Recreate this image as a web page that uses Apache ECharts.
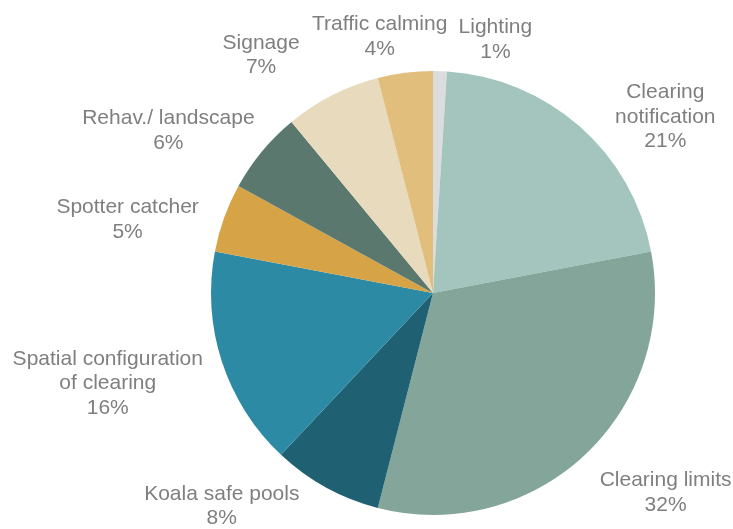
<!DOCTYPE html>
<html>
<head>
<meta charset="utf-8">
<script src="https://cdn.jsdelivr.net/npm/echarts@6/dist/echarts.min.js"></script>
<style>
  html, body { margin: 0; padding: 0; background: #ffffff; }
  #chart { width: 733px; height: 529px; }
</style>
</head>
<body>
<div id="chart"></div>
<script>
// Share of measures, clockwise from 12 o'clock
const categories = [
  'Lighting',
  'Clearing\nnotification',
  'Clearing limits',
  'Koala safe pools',
  'Spatial configuration\nof clearing',
  'Spotter catcher',
  'Rehav./ landscape',
  'Signage',
  'Traffic calming'
];
const shares = [1, 21, 32, 8, 16, 5, 6, 7, 4];

const sliceColors = [
  '#dcdcdc', '#a3c5bd', '#84a59a', '#1f6073', '#2d8aa4',
  '#d6a447', '#5b786f', '#e8dabd', '#e1be7c'
];

// Extra shift applied to each label after placing it just outside its slice
const labelShift = [
  [54, 1], [47, 24], [30, 14], [-63, -10], [-16, 8],
  [-22, 13], [-21, 0], [-50, -11], [-16, -4]
];

const chart = echarts.init(document.getElementById('chart'), null, { renderer: 'canvas' });

const labelGap = 8;

function placeLabel(params) {
  const data = chart.getModel().getSeriesByIndex(0).getData();
  const lay = data.getItemLayout(params.dataIndex);
  const mid = (lay.startAngle + lay.endAngle) / 2;
  const ux = Math.cos(mid);
  const uy = Math.sin(mid);
  const w = params.labelRect.width;
  const h = params.labelRect.height;
  const d = lay.r + labelGap;
  const s = labelShift[params.dataIndex];
  return {
    x: lay.cx + ux * d + ux * w / 2 + s[0],
    y: lay.cy + uy * d + uy * h / 2 + s[1],
    align: 'center',
    verticalAlign: 'middle'
  };
}

chart.setOption({
  animation: false,
  backgroundColor: '#ffffff',
  series: [{
    type: 'pie',
    center: [433, 293],
    radius: 222,
    startAngle: 90,
    clockwise: true,
    avoidLabelOverlap: false,
    silent: true,
    itemStyle: { borderWidth: 0 },
    label: {
      show: true,
      position: 'outside',
      formatter: '{b}\n{d}%',
      color: '#7f7f7f',
      fontFamily: 'Liberation Sans, Arial, sans-serif',
      fontSize: 21,
      lineHeight: 24.5
    },
    labelLine: { show: false },
    labelLayout: placeLabel,
    data: categories.map((name, i) => ({
      name: name,
      value: shares[i],
      itemStyle: { color: sliceColors[i] }
    }))
  }]
});
</script>
</body>
</html>
